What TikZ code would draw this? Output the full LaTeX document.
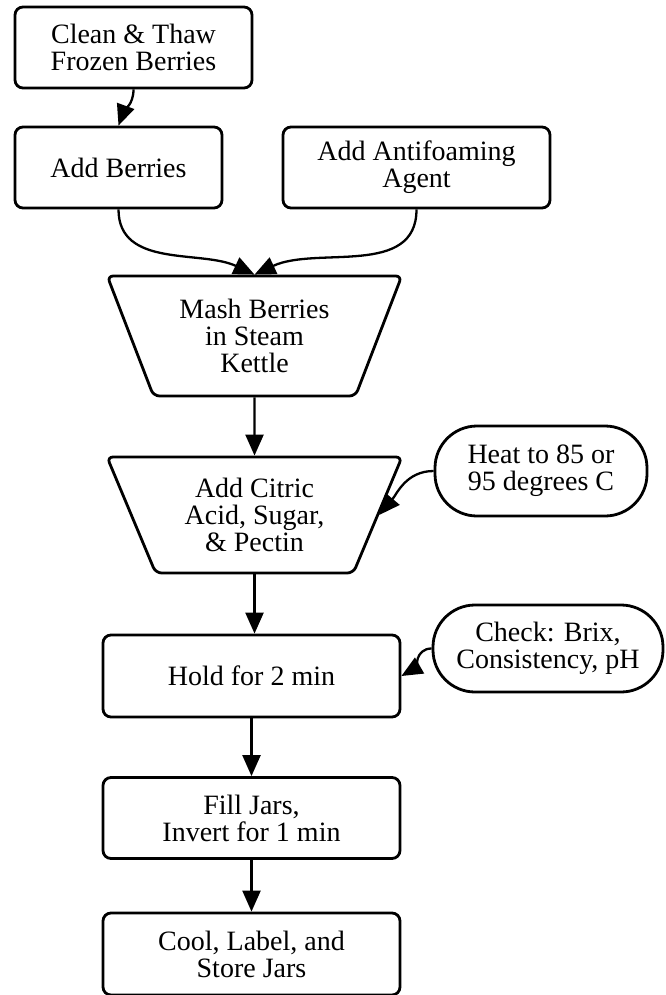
\documentclass[tikz,border=0pt]{standalone}
\usepackage{fontspec}
\setmainfont{Liberation Serif}
\usetikzlibrary{arrows.meta,shapes.geometric}

\tikzset{
  stage/.style={draw, line width=1.4pt, rounded corners=4pt, align=center,
    inner sep=0pt, minimum height=40.5pt},
  vessel/.style={draw, line width=1.4pt, rounded corners=3pt, align=center,
    trapezium, trapezium angle=65, shape border rotate=180,
    trapezium stretches=true, inner sep=0pt, minimum width=147.5pt},
  cond/.style={draw, line width=1.4pt, rounded corners=21pt, align=center,
    inner sep=0pt},
}

\begin{document}
\begin{tikzpicture}[x=0.5pt, y=0.5pt, line width=1.15pt,
    >={Triangle[length=10.5pt,width=9pt]},
    every node/.style={font=\fontsize{14}{13.5}\selectfont}]

    \useasboundingbox (0,0) rectangle (665,-995);

    \node[stage, minimum width=118.5pt] (clean) at (133.5,-47.5) {Clean \& Thaw\\Frozen Berries};
    \node[stage, minimum width=103.5pt] (addb) at (118.5,-167.5) {Add Berries};
    \node[stage, minimum width=133.5pt] (antif) at (416.5,-167.5) {Add Antifoaming\\Agent};
    \node[vessel, minimum height=60pt] (mash) at (254.5,-336) {Mash Berries\\in Steam\\Kettle};
    \node[vessel, minimum height=58pt] (citric) at (254.5,-515) {Add Citric\\Acid, Sugar,\\\& Pectin};
    \node[cond, minimum width=106pt, minimum height=45pt] (heat) at (541,-471) {Heat to 85 or\\95 degrees C};
    \node[stage, minimum width=148.5pt, minimum height=41pt] (hold) at (251.5,-676) {Hold for 2 min};
    \node[cond, minimum width=115pt, minimum height=43.5pt] (check) at (548,-648.5) {Check: Brix,\\Consistency, pH};
    \node[stage, minimum width=148.5pt] (fill) at (251.5,-818) {Fill Jars,\\Invert for 1 min};
    \node[stage, minimum width=148.5pt, minimum height=41pt] (cool) at (251.5,-954) {Cool, Label, and\\Store Jars};

    \draw[->] (clean.south) to[out=-90, in=70] (addb.north);
    \draw[->] (addb.south) to[out=-90, in=155] (mash.north);
    \draw[->] (antif.south) to[out=-90, in=25] (mash.north);
    \draw[->] (mash.south) -- (citric.north);
    \draw[->] (heat.west) to[out=180, in=50] (citric.east);
    \draw[->] (citric.south) -- (citric.south |- hold.north);
    \draw[->] (check.west) to[out=180, in=30] (hold.east);
    \draw[->] (hold) -- (fill);
    \draw[->] (fill) -- (cool);
\end{tikzpicture}
\end{document}
